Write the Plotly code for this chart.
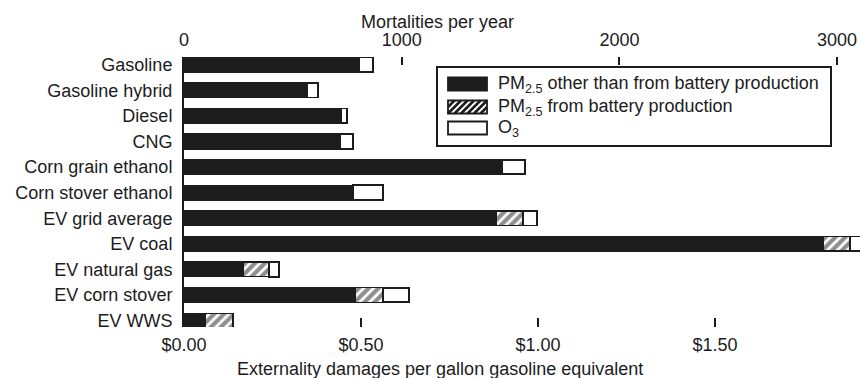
import plotly.graph_objects as go

# Fuel / vehicle pathways, top to bottom
categories = [
    "Gasoline", "Gasoline hybrid", "Diesel", "CNG", "Corn grain ethanol",
    "Corn stover ethanol", "EV grid average", "EV coal", "EV natural gas",
    "EV corn stover", "EV WWS",
]

# Externality damages, $ per gallon gasoline equivalent
pm_other = [0.494, 0.347, 0.444, 0.441, 0.898, 0.477, 0.881, 1.805, 0.167, 0.483, 0.059]
pm_battery = [None, None, None, None, None, None, 0.076, 0.076, 0.073, 0.079, 0.079]
o3 = [0.040, 0.031, 0.017, 0.037, 0.065, 0.085, 0.040, 0.040, 0.028, 0.073, None]

series_names = [
    "PM<sub>2.5</sub> other than from battery production",
    "PM<sub>2.5</sub> from battery production",
    "O<sub>3</sub>",
]

# Axis ticks
dollar_ticks = [0.0, 0.5, 1.0, 1.5]
dollar_labels = ["$0.00", "$0.50", "$1.00", "$1.50"]
mortality_ticks = [0, 1000, 2000, 3000]

INK = "#1c1c1c"
FONT = "Liberation Sans, Arial, sans-serif"
W, H = 860, 378
L, T, B = 184, 57, 51
PW, PH = W - L, H - T - B


def px(x):
    return (x - L) / PW


def py(y):
    return (H - B - y) / PH


hatch = dict(shape="/", fgcolor=INK, bgcolor="white", size=7, solidity=0.6)

fig = go.Figure()
fig.add_trace(go.Bar(
    y=categories, x=pm_other, orientation="h", name=series_names[0],
    marker=dict(color=INK, line=dict(color=INK, width=1.5)),
    width=0.57, showlegend=False,
))
fig.add_trace(go.Bar(
    y=categories, x=pm_battery, orientation="h", name=series_names[1],
    marker=dict(color="white", line=dict(color=INK, width=1.5), pattern=hatch),
    width=0.57, showlegend=False,
))
fig.add_trace(go.Bar(
    y=categories, x=o3, orientation="h", name=series_names[2],
    marker=dict(color="white", line=dict(color=INK, width=1.8)),
    width=0.57, showlegend=False,
))
# empty trace so the top (mortality) axis is drawn
fig.add_trace(go.Scatter(x=[], y=[], xaxis="x2", showlegend=False, hoverinfo="skip"))

x_max = PW / 354.0
mort_max = PW / 0.2177

# ---- legend box drawn with shapes ----
shapes = [dict(type="rect", xref="paper", yref="paper",
               x0=px(437), x1=px(831), y0=py(146), y1=py(67),
               line=dict(color=INK, width=2), fillcolor="white", layer="above")]
annotations = []
row_y = [84, 107, 128]
sw_x0, sw_x1, sw_h = 448, 487, 13
for i, (name, yc) in enumerate(zip(series_names, row_y)):
    y0, y1 = yc + sw_h / 2, yc - sw_h / 2
    fill = INK if i == 0 else "white"
    shapes.append(dict(type="rect", xref="paper", yref="paper",
                       x0=px(sw_x0), x1=px(sw_x1), y0=py(y0), y1=py(y1),
                       line=dict(color=INK, width=1.8), fillcolor=fill, layer="above"))
    if i == 1:
        segs = []
        step = 6.5
        xs = sw_x0 - sw_h
        while xs < sw_x1:
            a0, a1 = xs, xs + sw_h
            # clip the diagonal to the swatch
            bx0, by0 = a0, y0
            bx1, by1 = a1, y1
            if bx0 < sw_x0:
                by0 = y0 - (sw_x0 - bx0)
                bx0 = sw_x0
            if bx1 > sw_x1:
                by1 = y1 + (bx1 - sw_x1)
                bx1 = sw_x1
            if bx1 > bx0:
                segs.append(f"M{px(bx0)},{py(by0)}L{px(bx1)},{py(by1)}")
            xs += step
        shapes.append(dict(type="path", xref="paper", yref="paper",
                           path="".join(segs), line=dict(color=INK, width=2.6),
                           layer="above"))
    annotations.append(dict(text=name, xref="paper", yref="paper",
                            x=px(496), y=py(yc), xanchor="left", yanchor="middle",
                            showarrow=False, font=dict(size=18, color=INK)))

annotations += [
    dict(text="Mortalities per year", xref="paper", yref="paper",
         x=px(437), y=py(22), xanchor="center", yanchor="middle",
         showarrow=False, font=dict(size=18, color=INK)),
    dict(text="Externality damages per gallon gasoline equivalent",
         xref="paper", yref="paper", x=px(440), y=py(369),
         xanchor="center", yanchor="middle", showarrow=False,
         font=dict(size=18, color=INK)),
]

fig.update_layout(
    width=W, height=H,
    margin=dict(l=L, r=0, t=T, b=B, pad=0),
    barmode="stack",
    paper_bgcolor="white", plot_bgcolor="white",
    font=dict(family=FONT, size=18, color=INK),
    showlegend=False,
    xaxis=dict(
        range=[0, x_max], tickvals=dollar_ticks, ticktext=dollar_labels,
        ticks="inside", ticklen=9, tickwidth=1.5, tickcolor=INK,
        showline=False, showgrid=False, zeroline=False,
        ticklabelstandoff=5,
    ),
    xaxis2=dict(
        range=[0, mort_max], overlaying="x", side="top",
        tickvals=mortality_ticks,
        ticks="inside", ticklen=8, tickwidth=1.5, tickcolor=INK,
        showline=False, showgrid=False, zeroline=False,
        ticklabelstandoff=6,
    ),
    yaxis=dict(
        range=[10.25, -0.3], showline=True, linecolor=INK, linewidth=2,
        showgrid=False, zeroline=False, ticks="", ticklabelstandoff=6,
    ),
    shapes=shapes,
    annotations=annotations,
)

fig.write_html("out.html")
